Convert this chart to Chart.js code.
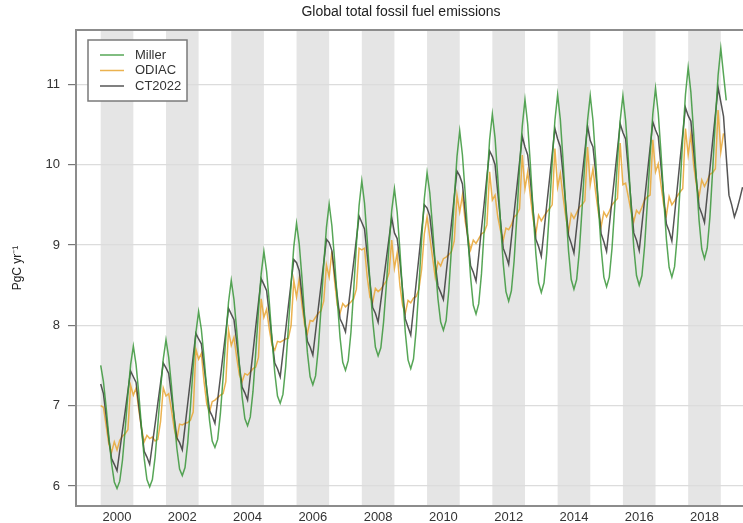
<!DOCTYPE html>
<html>
<head>
<meta charset="utf-8">
<script src="https://cdn.jsdelivr.net/npm/chart.js@4.4.1/dist/chart.umd.min.js"></script>
<style>
  html, body { margin: 0; padding: 0; background: #ffffff; }
  canvas { display: block; }
</style>
</head>
<body>
<canvas id="chart" width="743" height="523"></canvas>
<script>
// Monthly series, first value = January 2000
const START_YEAR = 2000;

const tickYears = [2000, 2002, 2004, 2006, 2008, 2010, 2012, 2014, 2016, 2018];
const shadedYears = [2000, 2002, 2004, 2006, 2008, 2010, 2012, 2014, 2016, 2018];
const yTicks = [6, 7, 8, 9, 10, 11];

const seriesNames = ['Miller', 'ODIAC', 'CT2022'];

const millerValues = [
  7.50, 7.30, 6.98, 6.61, 6.28, 6.05, 5.97, 6.06, 6.32, 6.71, 7.14, 7.51,
  7.74, 7.51, 7.15, 6.73, 6.34, 6.08, 5.99, 6.08, 6.36, 6.76, 7.20, 7.58,
  7.82, 7.60, 7.25, 6.84, 6.47, 6.21, 6.13, 6.23, 6.54, 6.99, 7.48, 7.91,
  8.17, 7.95, 7.60, 7.19, 6.82, 6.56, 6.48, 6.58, 6.90, 7.35, 7.85, 8.29,
  8.56, 8.32, 7.94, 7.51, 7.11, 6.84, 6.75, 6.86, 7.18, 7.66, 8.18, 8.64,
  8.92, 8.67, 8.28, 7.82, 7.41, 7.12, 7.03, 7.14, 7.48, 7.97, 8.51, 8.98,
  9.27, 9.01, 8.59, 8.10, 7.66, 7.36, 7.26, 7.37, 7.71, 8.21, 8.75, 9.22,
  9.51, 9.24, 8.81, 8.31, 7.85, 7.54, 7.44, 7.56, 7.91, 8.43, 9.00, 9.49,
  9.80, 9.52, 9.06, 8.54, 8.06, 7.73, 7.62, 7.72, 8.04, 8.49, 8.99, 9.43,
  9.70, 9.41, 8.94, 8.40, 7.91, 7.57, 7.46, 7.58, 7.95, 8.49, 9.07, 9.58,
  9.90, 9.65, 9.23, 8.76, 8.33, 8.04, 7.94, 8.06, 8.44, 8.98, 9.58, 10.10,
  10.42, 10.12, 9.65, 9.10, 8.60, 8.25, 8.14, 8.27, 8.64, 9.19, 9.78, 10.31,
  10.63, 10.33, 9.84, 9.28, 8.77, 8.42, 8.30, 8.43, 8.80, 9.35, 9.96, 10.48,
  10.81, 10.50, 9.99, 9.42, 8.89, 8.53, 8.41, 8.53, 8.90, 9.44, 10.03, 10.55,
  10.87, 10.56, 10.05, 9.47, 8.93, 8.57, 8.45, 8.57, 8.93, 9.46, 10.04, 10.55,
  10.86, 10.55, 10.05, 9.48, 8.96, 8.60, 8.48, 8.60, 8.96, 9.48, 10.05, 10.55,
  10.86, 10.55, 10.06, 9.49, 8.97, 8.62, 8.50, 8.62, 8.99, 9.53, 10.12, 10.63,
  10.95, 10.64, 10.15, 9.59, 9.07, 8.72, 8.60, 8.73, 9.12, 9.70, 10.32, 10.87,
  11.21, 10.90, 10.40, 9.83, 9.31, 8.95, 8.83, 8.96, 9.35, 9.93, 10.56, 11.11,
  11.45, 11.12, 10.80
];

const odiacValues = [
  7.00, 6.98, 6.75, 6.52, 6.42, 6.55, 6.45, 6.57, 6.62, 6.65, 6.70, 7.25,
  7.13, 7.22, 6.95, 6.72, 6.55, 6.63, 6.59, 6.61, 6.56, 6.58, 6.80, 7.22,
  7.12, 7.15, 6.95, 6.72, 6.58, 6.77, 6.76, 6.78, 6.79, 6.82, 6.92, 7.70,
  7.58, 7.65, 7.30, 7.02, 6.92, 7.05, 7.07, 7.10, 7.13, 7.15, 7.30, 7.94,
  7.75, 7.85, 7.60, 7.38, 7.30, 7.40, 7.38, 7.42, 7.46, 7.48, 7.60, 8.33,
  8.10, 8.20, 7.95, 7.75, 7.69, 7.80, 7.79, 7.81, 7.83, 7.84, 8.00, 8.56,
  8.35, 8.58, 8.25, 8.00, 7.90, 8.06, 8.05, 8.10, 8.15, 8.18, 8.30, 8.75,
  8.60, 8.92, 8.55, 8.25, 8.15, 8.27, 8.23, 8.26, 8.29, 8.33, 8.45, 8.96,
  8.94, 8.96, 8.60, 8.35, 8.29, 8.46, 8.42, 8.45, 8.50, 8.55, 8.65, 9.06,
  8.71, 8.90, 8.50, 8.25, 8.15, 8.31, 8.28, 8.34, 8.36, 8.45, 8.70, 9.14,
  9.35, 9.10, 8.85, 8.60, 8.79, 8.74, 8.83, 8.85, 8.88, 8.92, 9.05, 9.62,
  9.41, 9.62, 9.30, 9.10, 8.94, 9.06, 9.02, 9.08, 9.14, 9.16, 9.25, 9.91,
  9.56, 9.62, 9.35, 9.18, 9.06, 9.21, 9.19, 9.25, 9.35, 9.38, 9.45, 10.12,
  9.70, 9.91, 9.60, 9.32, 9.14, 9.37, 9.30, 9.36, 9.41, 9.45, 9.50, 10.20,
  9.72, 9.89, 9.60, 9.35, 9.16, 9.39, 9.33, 9.40, 9.47, 9.50, 9.55, 10.22,
  9.75, 9.95, 9.65, 9.40, 9.23, 9.41, 9.35, 9.42, 9.50, 9.54, 9.58, 10.27,
  9.75, 9.77, 9.60, 9.42, 9.29, 9.43, 9.39, 9.47, 9.56, 9.60, 9.62, 10.31,
  9.91, 10.01, 9.75, 9.50, 9.37, 9.60, 9.50, 9.55, 9.61, 9.66, 9.70, 10.45,
  10.12, 10.38, 10.00, 9.75, 9.60, 9.81, 9.73, 9.80, 9.88, 9.90, 9.95, 10.68,
  10.16, 10.39
];

const ct2022Values = [
  7.27, 7.15, 6.87, 6.58, 6.34, 6.27, 6.19, 6.44, 6.69, 6.93, 7.18, 7.43,
  7.36, 7.29, 7.00, 6.71, 6.43, 6.36, 6.27, 6.52, 6.77, 7.03, 7.28, 7.53,
  7.47, 7.40, 7.13, 6.86, 6.60, 6.54, 6.45, 6.74, 7.03, 7.32, 7.61, 7.90,
  7.83, 7.77, 7.49, 7.21, 6.94, 6.87, 6.78, 7.07, 7.35, 7.64, 7.92, 8.21,
  8.14, 8.07, 7.79, 7.50, 7.23, 7.16, 7.07, 7.37, 7.67, 7.98, 8.28, 8.58,
  8.51, 8.43, 8.13, 7.82, 7.53, 7.46, 7.36, 7.65, 7.94, 8.24, 8.53, 8.82,
  8.78, 8.68, 8.38, 8.08, 7.80, 7.73, 7.63, 7.92, 8.21, 8.49, 8.78, 9.07,
  9.03, 8.93, 8.64, 8.36, 8.08, 8.01, 7.92, 8.21, 8.50, 8.78, 9.07, 9.36,
  9.28, 9.20, 8.87, 8.54, 8.22, 8.15, 8.04, 8.30, 8.56, 8.82, 9.08, 9.34,
  9.15, 9.08, 8.80, 8.44, 8.08, 7.98, 7.88, 8.20, 8.53, 8.85, 9.18, 9.50,
  9.46, 9.36, 9.06, 8.77, 8.49, 8.41, 8.32, 8.64, 8.96, 9.28, 9.60, 9.92,
  9.86, 9.76, 9.41, 9.07, 8.74, 8.66, 8.55, 8.87, 9.20, 9.52, 9.85, 10.17,
  10.10, 10.00, 9.65, 9.30, 8.96, 8.87, 8.76, 9.08, 9.40, 9.71, 10.03, 10.35,
  10.22, 10.12, 9.80, 9.43, 9.07, 8.98, 8.86, 9.18, 9.50, 9.81, 10.13, 10.45,
  10.32, 10.22, 9.88, 9.49, 9.12, 9.02, 8.90, 9.22, 9.53, 9.85, 10.16, 10.48,
  10.30, 10.22, 9.90, 9.51, 9.14, 9.04, 8.92, 9.24, 9.56, 9.87, 10.19, 10.51,
  10.40, 10.32, 9.93, 9.53, 9.15, 9.06, 8.93, 9.25, 9.57, 9.89, 10.21, 10.53,
  10.43, 10.35, 9.98, 9.61, 9.26, 9.17, 9.05, 9.38, 9.71, 10.05, 10.38, 10.71,
  10.61, 10.54, 10.18, 9.82, 9.48, 9.39, 9.28, 9.62, 9.95, 10.29, 10.62, 10.96,
  10.78, 10.60, 10.10, 9.62, 9.50, 9.35, 9.45, 9.58, 9.72
];

const seriesColors = {
  Miller: 'rgba(58, 150, 58, 0.85)',
  ODIAC: 'rgba(233, 170, 60, 0.9)',
  CT2022: 'rgba(55, 55, 55, 0.85)'
};

const FONT = '"Liberation Sans", Arial, Helvetica, sans-serif';
const AXIS_GREY = '#8c8c8c';

function monthly(values) {
  return values.map((v, i) => ({ x: START_YEAR + i / 12, y: v }));
}

// Alternate-year shading behind the grid
const yearBands = {
  id: 'yearBands',
  beforeDraw(chart) {
    const { ctx, chartArea, scales } = chart;
    ctx.save();
    ctx.beginPath();
    ctx.rect(chartArea.left, chartArea.top, chartArea.right - chartArea.left, chartArea.bottom - chartArea.top);
    ctx.clip();
    ctx.fillStyle = '#e5e5e5';
    shadedYears.forEach(y => {
      const x0 = scales.x.getPixelForValue(y);
      const x1 = scales.x.getPixelForValue(y + 1);
      ctx.fillRect(x0, chartArea.top, x1 - x0, chartArea.bottom - chartArea.top);
    });
    ctx.restore();
  }
};

// Top frame line, titles and boxed legend
const decorations = {
  id: 'decorations',
  afterDraw(chart) {
    const { ctx, chartArea } = chart;
    ctx.save();
    ctx.strokeStyle = AXIS_GREY;
    ctx.lineWidth = 2;
    ctx.beginPath();
    ctx.moveTo(chartArea.left - 1, chartArea.top);
    ctx.lineTo(chartArea.right, chartArea.top);
    ctx.stroke();

    ctx.fillStyle = '#222';
    ctx.font = '14px ' + FONT;
    ctx.textAlign = 'center';
    ctx.textBaseline = 'middle';
    ctx.fillText('Global total fossil fuel emissions', 401, 12);

    ctx.font = '12px ' + FONT;
    ctx.translate(18, 268);
    ctx.rotate(-Math.PI / 2);
    ctx.fillText('PgC yr\u207B\u00B9', 0, 0);
    ctx.restore();

    // legend
    ctx.save();
    const bx = 88, by = 40, bw = 99, bh = 61;
    ctx.fillStyle = '#ffffff';
    ctx.fillRect(bx, by, bw, bh);
    ctx.strokeStyle = '#7a7a7a';
    ctx.lineWidth = 1.5;
    ctx.strokeRect(bx, by, bw, bh);
    ctx.font = '13px ' + FONT;
    ctx.textAlign = 'left';
    ctx.textBaseline = 'middle';
    chart.data.datasets.slice().sort((a, b) => seriesNames.indexOf(a.label) - seriesNames.indexOf(b.label))
      .forEach((ds, i) => {
        const yy = 55 + i * 15.5;
        ctx.strokeStyle = ds.borderColor;
        ctx.lineWidth = 1.5;
        ctx.beginPath();
        ctx.moveTo(100, yy);
        ctx.lineTo(124, yy);
        ctx.stroke();
        ctx.fillStyle = '#333';
        ctx.fillText(ds.label, 135, yy);
      });
    ctx.restore();
  }
};

new Chart(document.getElementById('chart').getContext('2d'), {
  type: 'line',
  data: {
    datasets: [
      { label: 'Miller', data: monthly(millerValues), borderColor: seriesColors.Miller },
      { label: 'CT2022', data: monthly(ct2022Values), borderColor: seriesColors.CT2022 },
      { label: 'ODIAC', data: monthly(odiacValues), borderColor: seriesColors.ODIAC }
    ]
  },
  options: {
    responsive: false,
    animation: false,
    devicePixelRatio: 1,
    layout: { padding: { top: 30, right: 0, bottom: 0, left: 0 } },
    elements: {
      point: { radius: 0 },
      line: { tension: 0, borderWidth: 1.5, fill: false }
    },
    plugins: {
      legend: { display: false },
      title: { display: false },
      tooltip: { enabled: false }
    },
    scales: {
      x: {
        type: 'linear',
        min: 1999.243,
        max: 2019.68,
        afterBuildTicks: s => { s.ticks = tickYears.map(y => ({ value: y + 0.5 })); },
        afterFit: s => { s.height = 17; },
        ticks: {
          callback: v => String(Math.floor(v)),
          color: '#333', font: { family: FONT, size: 13 },
          padding: 4, maxRotation: 0, autoSkip: false
        },
        grid: { display: false, drawTicks: false },
        border: { display: true, color: AXIS_GREY, width: 2 }
      },
      y: {
        min: 5.751,
        max: 11.676,
        afterBuildTicks: s => { s.ticks = yTicks.map(v => ({ value: v })); },
        afterFit: s => { s.width = 76; },
        ticks: {
          callback: v => String(v),
          color: '#333', font: { family: FONT, size: 13 }, padding: 8
        },
        grid: { color: '#dcdcdc', lineWidth: 1.2, tickColor: '#777', tickLength: 8 },
        border: { display: true, color: AXIS_GREY, width: 2 }
      }
    }
  },
  plugins: [yearBands, decorations]
});
</script>
</body>
</html>
